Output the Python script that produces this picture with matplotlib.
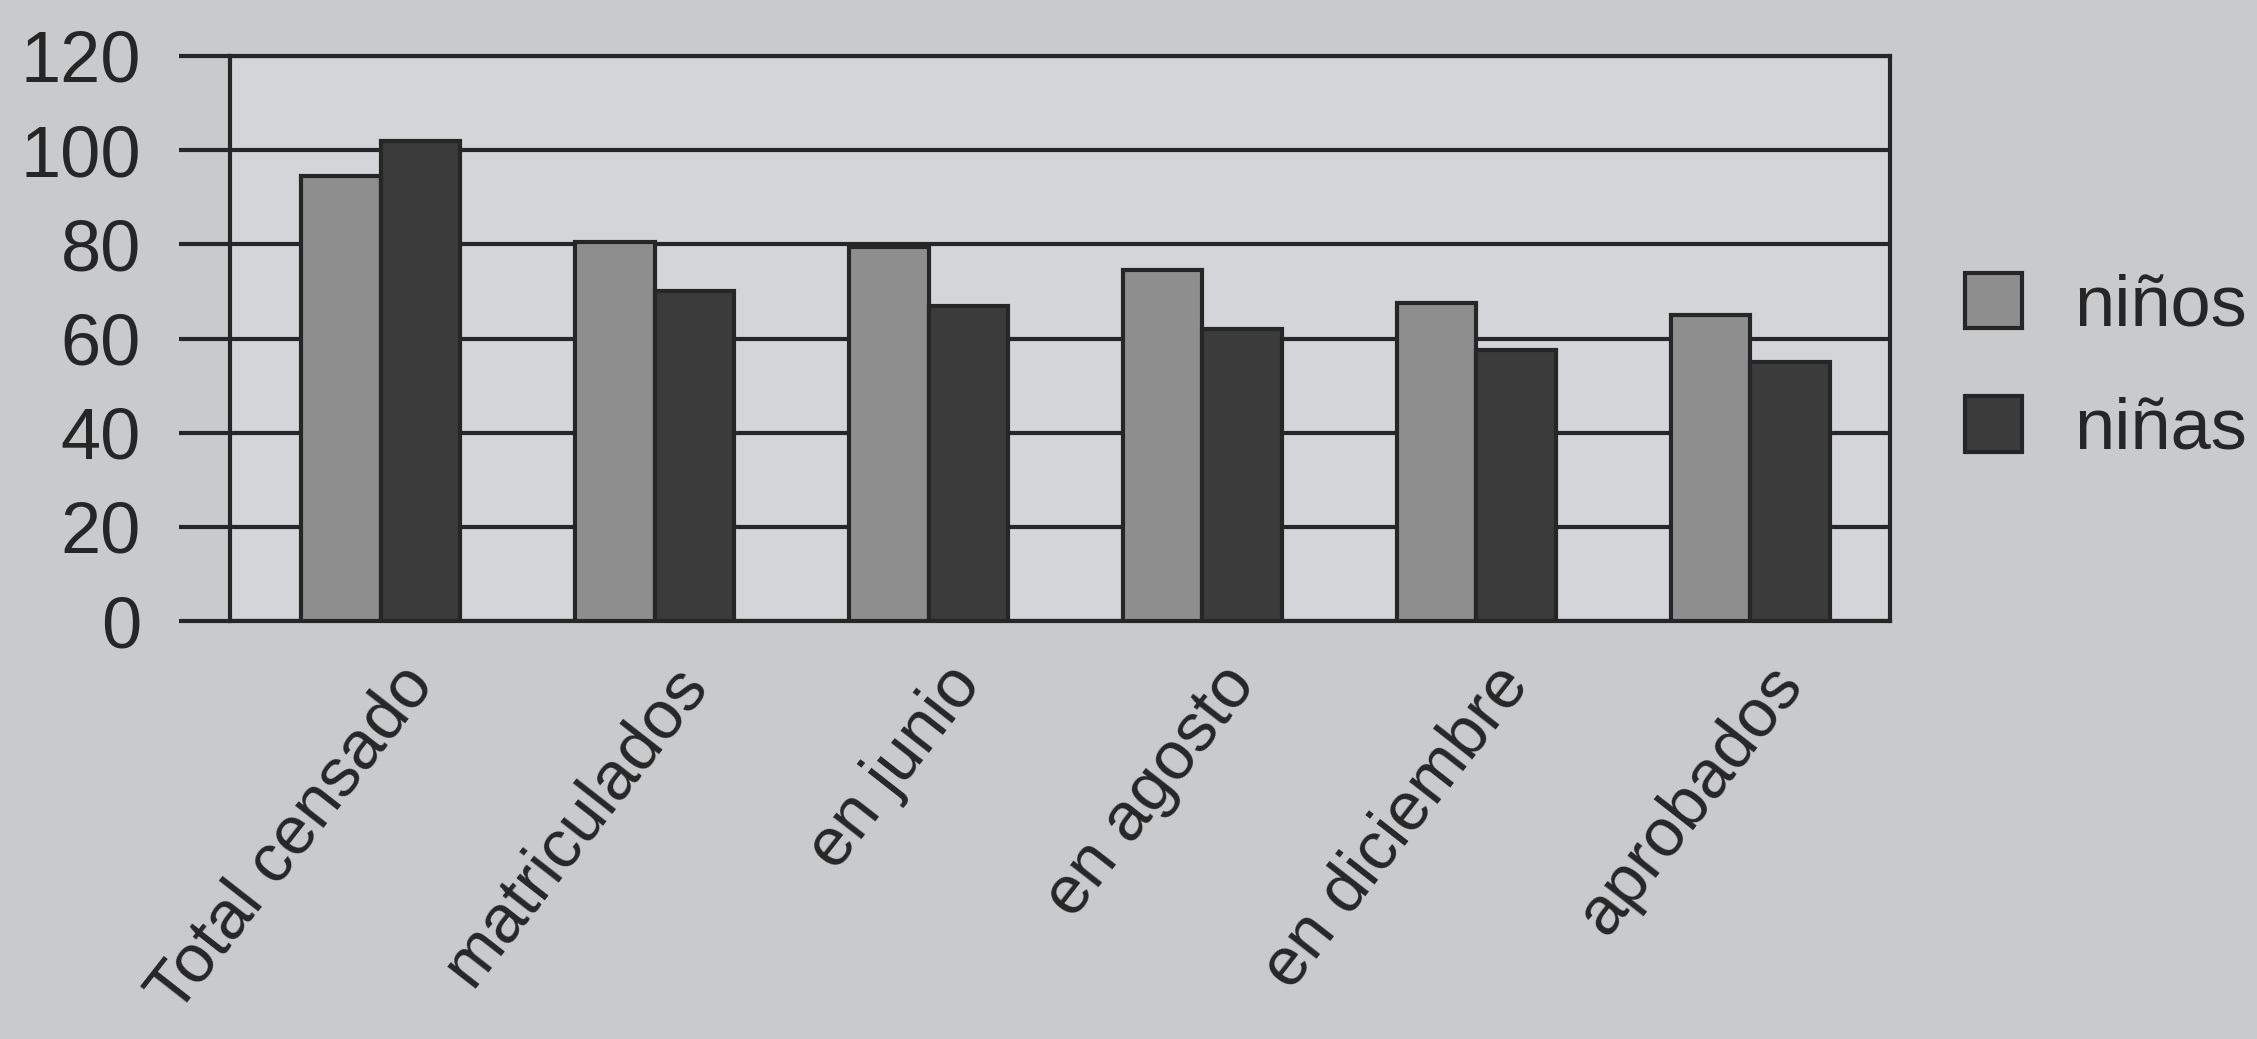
import matplotlib
matplotlib.use("Agg")
import matplotlib.pyplot as plt
from matplotlib.transforms import ScaledTranslation
import numpy as np

categories = ["Total censado", "matriculados", "en junio", "en agosto", "en diciembre", "aprobados"]
ninos = [94.5, 80.5, 79.5, 74.5, 67.5, 65]
ninas = [102, 70, 67, 62, 57.5, 55]
series_names = ["niños", "niñas"]
yticks = [0, 20, 40, 60, 80, 100, 120]

PAPER = "#c9cacc"
PANEL = "#d4d5d8"
INK = "#262626"
LW = 3.0

plt.rcParams["font.family"] = ["Liberation Sans", "DejaVu Sans"]

fig = plt.figure(figsize=(22.57, 10.39), dpi=100)
fig.patch.set_facecolor(PAPER)
# axes box in pixels: left 230, right 1890, top 56, bottom 621
ax = fig.add_axes([230 / 2257, 1 - 621 / 1039, (1890 - 230) / 2257, (621 - 56) / 1039])
ax.set_facecolor(PANEL)

x = np.arange(len(categories))
w = 0.29
ax.bar(x - w / 2, ninos, w, color="#8e8e8e", edgecolor=INK, linewidth=LW, label=series_names[0], zorder=3)
ax.bar(x + w / 2, ninas, w, color="#3b3b3b", edgecolor=INK, linewidth=LW, label=series_names[1], zorder=3)

ax.set_ylim(0, 120)
ax.set_xlim(-0.55, 5.51)
ax.set_yticks(yticks)
ax.yaxis.grid(True, color=INK, linewidth=LW, zorder=1)
ax.tick_params(axis="y", length=37, width=LW, color=INK, labelsize=52, labelcolor=INK, pad=27)
ax.tick_params(axis="x", length=0, pad=24)
ax.set_xticks(x)
ax.set_xticklabels(categories, rotation=52, ha="right", va="top", rotation_mode="anchor",
                   fontsize=49, color=INK)
shift = ScaledTranslation(0.15, 0, fig.dpi_scale_trans)
for lbl in ax.get_xticklabels():
    lbl.set_transform(lbl.get_transform() + shift)

for s in ax.spines.values():
    s.set_color(INK)
    s.set_linewidth(LW)

leg = ax.legend(loc="center left", bbox_to_anchor=(1.045, 0.447), frameon=False,
                borderaxespad=0, borderpad=0,
                fontsize=52, handlelength=0.8, handleheight=0.8, handletextpad=0.72,
                labelspacing=0.77)
for t in leg.get_texts():
    t.set_color(INK)
for h in leg.legend_handles:
    h.set_linewidth(LW)

fig.savefig("out.png", dpi=100, facecolor=PAPER)
